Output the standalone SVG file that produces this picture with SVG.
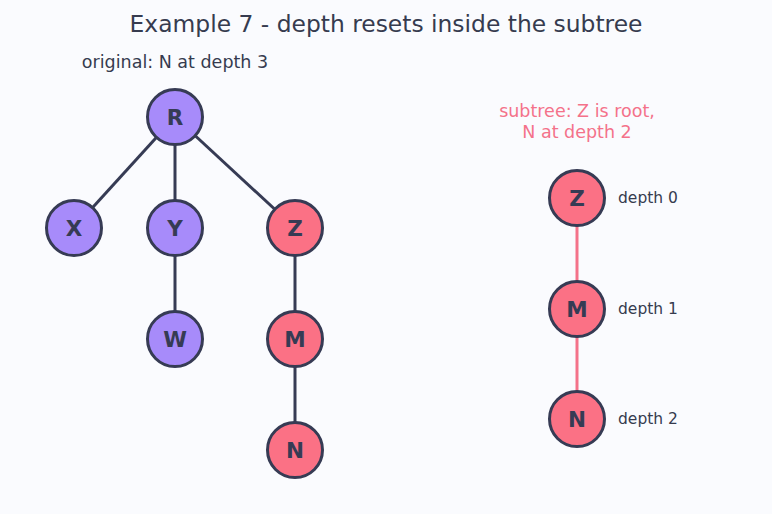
<svg xmlns="http://www.w3.org/2000/svg" width="772" height="514" viewBox="0 0 772 514">
<style>
.bg{fill:#fafbfe}
.title{font-family:"DejaVu Sans",sans-serif;font-size:23.4px;fill:#363b4f;text-anchor:middle}
.sub{font-family:"DejaVu Sans",sans-serif;font-size:17.5px;fill:#363b4f;text-anchor:middle}
.pink{font-family:"DejaVu Sans",sans-serif;font-size:17.5px;fill:#f4728a;text-anchor:middle}
.dl{font-family:"DejaVu Sans",sans-serif;font-size:15.5px;fill:#363b4f}
.p circle{fill:#a78bfa;stroke:#363b54;stroke-width:3}
.r circle{fill:#fb7185;stroke:#363b54;stroke-width:3}
.lbl{font-family:"DejaVu Sans",sans-serif;font-size:21.5px;font-weight:bold;fill:#363b54;text-anchor:middle;dominant-baseline:central}
.e{stroke:#363b54;stroke-width:3}
.ep{stroke:#f4728a;stroke-width:3}
</style>
<rect class="bg" width="772" height="514"/>
<text class="title" x="386" y="32">Example 7 - depth resets inside the subtree</text>
<text class="sub" x="175" y="68">original: N at depth 3</text>
<text class="pink" x="577" y="117">subtree: Z is root,</text>
<text class="pink" x="577" y="138">N at depth 2</text>
<g id="connectors">
<line class="e" x1="175" y1="117" x2="74" y2="228"/>
<line class="e" x1="175" y1="117" x2="175" y2="228"/>
<line class="e" x1="175" y1="117" x2="295" y2="228"/>
<line class="e" x1="175" y1="228" x2="175" y2="339"/>
<line class="e" x1="295" y1="228" x2="295" y2="339"/>
<line class="e" x1="295" y1="339" x2="295" y2="450"/>
<line class="ep" x1="577" y1="198" x2="577" y2="309"/>
<line class="ep" x1="577" y1="309" x2="577" y2="419"/>
</g>
<g id="node-R" class="p"><circle cx="175" cy="117" r="27.5"/><text class="lbl" x="175" y="117">R</text></g>
<g id="node-X" class="p"><circle cx="74" cy="228" r="27.5"/><text class="lbl" x="74" y="228">X</text></g>
<g id="node-Y" class="p"><circle cx="175" cy="228" r="27.5"/><text class="lbl" x="175" y="228">Y</text></g>
<g id="node-Z" class="r"><circle cx="295" cy="228" r="27.5"/><text class="lbl" x="295" y="228">Z</text></g>
<g id="node-W" class="p"><circle cx="175" cy="339" r="27.5"/><text class="lbl" x="175" y="339">W</text></g>
<g id="node-M" class="r"><circle cx="295" cy="339" r="27.5"/><text class="lbl" x="295" y="339">M</text></g>
<g id="node-N" class="r"><circle cx="295" cy="450" r="27.5"/><text class="lbl" x="295" y="450">N</text></g>
<g id="node-Z2" class="r"><circle cx="577" cy="198" r="27.5"/><text class="lbl" x="577" y="198">Z</text></g>
<g id="node-M2" class="r"><circle cx="577" cy="309" r="27.5"/><text class="lbl" x="577" y="309">M</text></g>
<g id="node-N2" class="r"><circle cx="577" cy="419" r="27.5"/><text class="lbl" x="577" y="419">N</text></g>
<text class="dl" x="618" y="203">depth 0</text>
<text class="dl" x="618" y="314">depth 1</text>
<text class="dl" x="618" y="424">depth 2</text>
</svg>
